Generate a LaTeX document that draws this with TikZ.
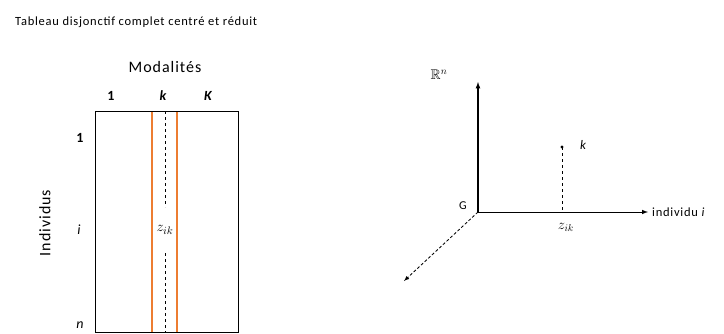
\documentclass[tikz,border=0pt]{standalone}
\usepackage{fontspec}
\usepackage{amssymb}
\setmainfont{Carlito}[LetterSpace=6]
\definecolor{orangeline}{RGB}{237,125,49}
\begin{document}
\begin{tikzpicture}[x=1pt,y=-1pt,
  lbl/.style={inner sep=0pt,font=\fontsize{13}{15}\selectfont},
  axis/.style={line width=1.2pt,-latex},
  orangeln/.style={draw=orangeline,line width=1.2pt},
  dsh/.style={dash pattern=on 3pt off 3pt,line width=1pt}]
\useasboundingbox[fill=white] (0,0) rectangle (724,333);
% left table
\node[lbl,anchor=west,font=\fontsize{12.5}{15}\selectfont] (title) at (15,22) {Tableau disjonctif complet centré et réduit};
\node[lbl,font=\fontsize{16}{18}\selectfont] (mod) at (165,67) {Modalités};
\node[lbl,font=\fontsize{14}{16}\selectfont\bfseries] (c1) at (111,96) {1};
\node[lbl,font=\fontsize{14}{16}\selectfont\bfseries\itshape] (ck) at (163,96) {k};
\node[lbl,font=\fontsize{14}{16}\selectfont\bfseries\itshape] (cK) at (208,96) {K};
\node[lbl,font=\fontsize{14}{16}\selectfont\bfseries] (r1) at (80,138) {1};
\node[lbl,font=\fontsize{14}{16}\selectfont\itshape] (ri) at (79,230) {i};
\node[lbl,font=\fontsize{14}{16}\selectfont\itshape] (rn) at (80,325) {n};
\node[lbl,font=\fontsize{16}{18}\selectfont,rotate=90] (ind) at (45,223) {Individus};
\draw[orangeln] (152,111) -- (152,332);
\draw[orangeln] (177,111) -- (177,332);
\draw[line width=1pt] (95,111) rectangle (238,332);
\coordinate (dtop) at (165,111);
\coordinate (dmid1) at (165,207);
\coordinate (dmid2) at (165,253);
\coordinate (dbot) at (165,332);
\draw[dsh] (dtop) -- (dmid1);
\draw[dsh] (dmid2) -- (dbot);
\node[inner sep=0pt,font=\fontsize{15}{17}\selectfont] (zik) at (165,230) {$z_{ik}$};
% right axes
\coordinate (G) at (478,212);
\coordinate (ytop) at (478,82);
\coordinate (xend) at (648,212);
\coordinate (zend) at (404,281);
\draw[axis] (G) -- (ytop);
\draw[axis,line width=1pt] (G) -- (xend);
\draw[line width=0.8pt,densely dashed,-latex] (G) -- (zend);
\node[inner sep=0pt,font=\fontsize{14}{16}\selectfont] (Rn) at (439,75) {$\mathbb{R}^n$};
\node[lbl,font=\fontsize{12}{14}\selectfont] (Glab) at (463,206) {G};
\node[lbl,anchor=west,font=\fontsize{12.5}{14}\selectfont] (indi) at (652,212) {individu \textit{i}};
\coordinate (kpt) at (562,147);
\coordinate (kfoot) at (562,212);
\fill (kpt) circle (1.6);
\draw[dsh] (kpt) -- (kfoot);
\node[lbl,font=\fontsize{13}{15}\selectfont\itshape] (klab) at (583,145) {k};
\node[inner sep=0pt,font=\fontsize{14}{16}\selectfont] (zik2) at (566,227) {$z_{ik}$};
\end{tikzpicture}
\end{document}
